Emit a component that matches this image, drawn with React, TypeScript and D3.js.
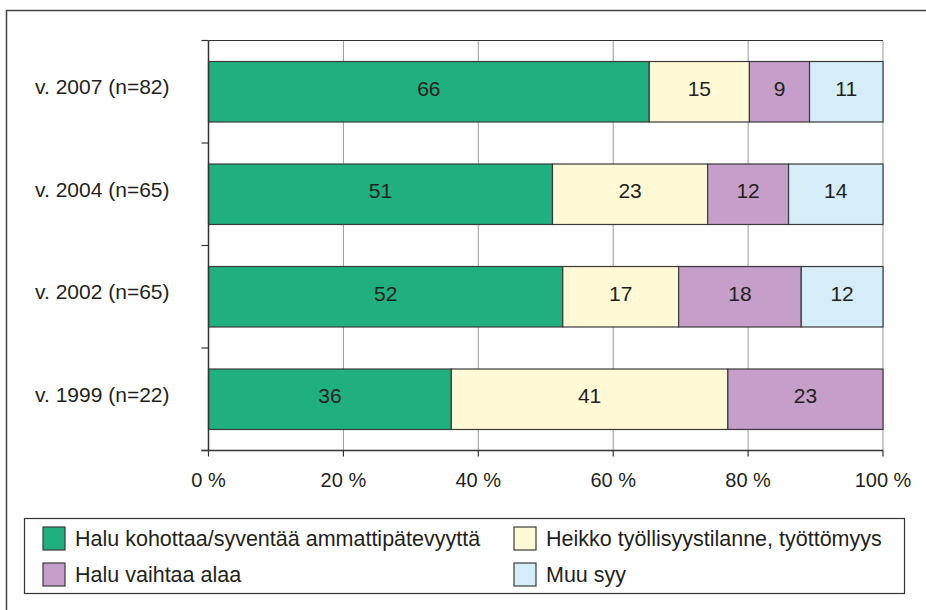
import { useEffect, useRef } from "react";
import * as d3 from "d3";

const years = ["v. 2007 (n=82)", "v. 2004 (n=65)", "v. 2002 (n=65)", "v. 1999 (n=22)"];
const seriesKeys = ["kohottaa", "tyollisyys", "vaihtaa", "muu"];
const seriesNames = [
  "Halu kohottaa/syventää ammattipätevyyttä",
  "Heikko työllisyystilanne, työttömyys",
  "Halu vaihtaa alaa",
  "Muu syy",
];
const seriesColors = ["#20b07f", "#fff9d6", "#c59fc9", "#d4edf9"];
// percentages per series, in year order
const kohottaa = [66, 51, 52, 36];
const tyollisyys = [15, 23, 17, 41];
const vaihtaa = [9, 12, 18, 23];
const muu = [11, 14, 12, 0];
const xTicks = [0, 20, 40, 60, 80, 100];

const W = 926;
const H = 610;
const FONT = "'Liberation Sans', Arial, sans-serif";

export default function App() {
  const ref = useRef<SVGSVGElement | null>(null);

  useEffect(() => {
    if (!ref.current) return;
    const svg = d3.select(ref.current);
    svg.selectAll("*").remove();

    const left = 208.5, right = 883, top = 40.5, bottom = 450.5;

    const rows = years.map((year, i) => ({
      year,
      kohottaa: kohottaa[i],
      tyollisyys: tyollisyys[i],
      vaihtaa: vaihtaa[i],
      muu: muu[i],
    }));
    // rows don't always add to exactly 100, so normalise like the original
    const stacked = d3.stack<any>().keys(seriesKeys).offset(d3.stackOffsetExpand)(rows);

    const x = d3.scaleLinear().domain([0, 1]).range([left, right]);
    const xPct = d3.scaleLinear().domain([0, 100]).range([left, right]);
    const y = d3
      .scaleBand<string>()
      .domain(years)
      .range([top, bottom])
      .paddingInner(0.41)
      .paddingOuter(0.205);

    svg.append("rect").attr("width", W).attr("height", H).attr("fill", "#fff");

    // outer frame, only the left and top edges are in view
    svg
      .append("path")
      .attr("d", `M6.5,${H + 2} V10.5 H${W + 2}`)
      .attr("fill", "none")
      .attr("stroke", "#444")
      .attr("stroke-width", 1.5);

    // grid
    svg
      .append("g")
      .selectAll("line")
      .data(xTicks.slice(1))
      .join("line")
      .attr("x1", (d) => xPct(d))
      .attr("x2", (d) => xPct(d))
      .attr("y1", top)
      .attr("y2", bottom)
      .attr("stroke", "#999")
      .attr("stroke-width", 1);

    svg
      .append("line")
      .attr("x1", left)
      .attr("x2", right)
      .attr("y1", top)
      .attr("y2", top)
      .attr("stroke", "#333")
      .attr("stroke-width", 1.2);

    // bars
    const layers = svg
      .append("g")
      .selectAll("g")
      .data(stacked)
      .join("g")
      .attr("fill", (d) => seriesColors[d.index]);

    layers
      .selectAll("rect")
      .data((d) => d.filter((s) => s[1] - s[0] > 0))
      .join("rect")
      .attr("x", (s) => x(s[0]))
      .attr("width", (s) => x(s[1]) - x(s[0]))
      .attr("y", (s) => y(s.data.year)!)
      .attr("height", y.bandwidth())
      .attr("stroke", "#3a3a3a")
      .attr("stroke-width", 1.2);

    const labels = svg.append("g");
    stacked.forEach((layer) => {
      layer
        .filter((s) => s[1] - s[0] > 0)
        .forEach((s) => {
          labels
            .append("text")
            .attr("x", (x(s[0]) + x(s[1])) / 2)
            .attr("y", y(s.data.year)! + y.bandwidth() / 2 - 3.5)
            .attr("dy", "0.35em")
            .attr("text-anchor", "middle")
            .attr("font-family", FONT)
            .attr("font-size", 21)
            .attr("fill", "#231f20")
            .text(s.data[layer.key]);
        });
    });

    // y axis
    svg
      .append("line")
      .attr("x1", left)
      .attr("x2", left)
      .attr("y1", top)
      .attr("y2", bottom)
      .attr("stroke", "#333")
      .attr("stroke-width", 1.5);
    svg
      .append("g")
      .selectAll("line")
      .data([top, ...years.slice(1).map((d) => y(d)! - (y.step() * 0.41) / 2), bottom])
      .join("line")
      .attr("x1", left - 7)
      .attr("x2", left)
      .attr("y1", (d) => d)
      .attr("y2", (d) => d)
      .attr("stroke", "#333")
      .attr("stroke-width", 1.2);
    svg
      .append("g")
      .selectAll("text")
      .data(years)
      .join("text")
      .attr("x", left - 39)
      .attr("y", (d) => y(d)! + y.bandwidth() / 2 - 5)
      .attr("dy", "0.35em")
      .attr("text-anchor", "end")
      .attr("font-family", FONT)
      .attr("font-size", 21)
      .attr("fill", "#231f20")
      .text((d) => d);

    // x axis
    svg
      .append("line")
      .attr("x1", left - 7)
      .attr("x2", right)
      .attr("y1", bottom)
      .attr("y2", bottom)
      .attr("stroke", "#333")
      .attr("stroke-width", 1.5);
    svg
      .append("g")
      .selectAll("line")
      .data(xTicks)
      .join("line")
      .attr("x1", (d) => xPct(d))
      .attr("x2", (d) => xPct(d))
      .attr("y1", bottom)
      .attr("y2", bottom + 6)
      .attr("stroke", "#333")
      .attr("stroke-width", 1.2);
    svg
      .append("g")
      .selectAll("text")
      .data(xTicks)
      .join("text")
      .attr("x", (d) => xPct(d))
      .attr("y", 487)
      .attr("text-anchor", "middle")
      .attr("font-family", FONT)
      .attr("font-size", 20)
      .attr("fill", "#231f20")
      .text((d) => `${d} %`);

    // legend
    svg
      .append("rect")
      .attr("x", 24.5)
      .attr("y", 518.5)
      .attr("width", 880)
      .attr("height", 75)
      .attr("fill", "#fff")
      .attr("stroke", "#333")
      .attr("stroke-width", 1.2);
    const legPos = [
      [43, 527],
      [514, 527],
      [43, 563],
      [514, 563],
    ];
    const leg = svg
      .append("g")
      .selectAll("g")
      .data(seriesNames)
      .join("g")
      .attr("transform", (_, i) => `translate(${legPos[i][0]},${legPos[i][1]})`);
    leg
      .append("rect")
      .attr("width", 22)
      .attr("height", 23)
      .attr("fill", (_, i) => seriesColors[i])
      .attr("stroke", "#3a3a3a")
      .attr("stroke-width", 1.2);
    leg
      .append("text")
      .attr("x", 32)
      .attr("y", 11.5)
      .attr("dy", "0.35em")
      .attr("font-family", FONT)
      .attr("font-size", 21.5)
      .attr("fill", "#231f20")
      .text((d) => d);
  }, []);

  return (
    <div style={{ position: "fixed", left: 0, top: 0 }}>
      <svg ref={ref} width={W} height={H} style={{ display: "block" }} />
    </div>
  );
}
